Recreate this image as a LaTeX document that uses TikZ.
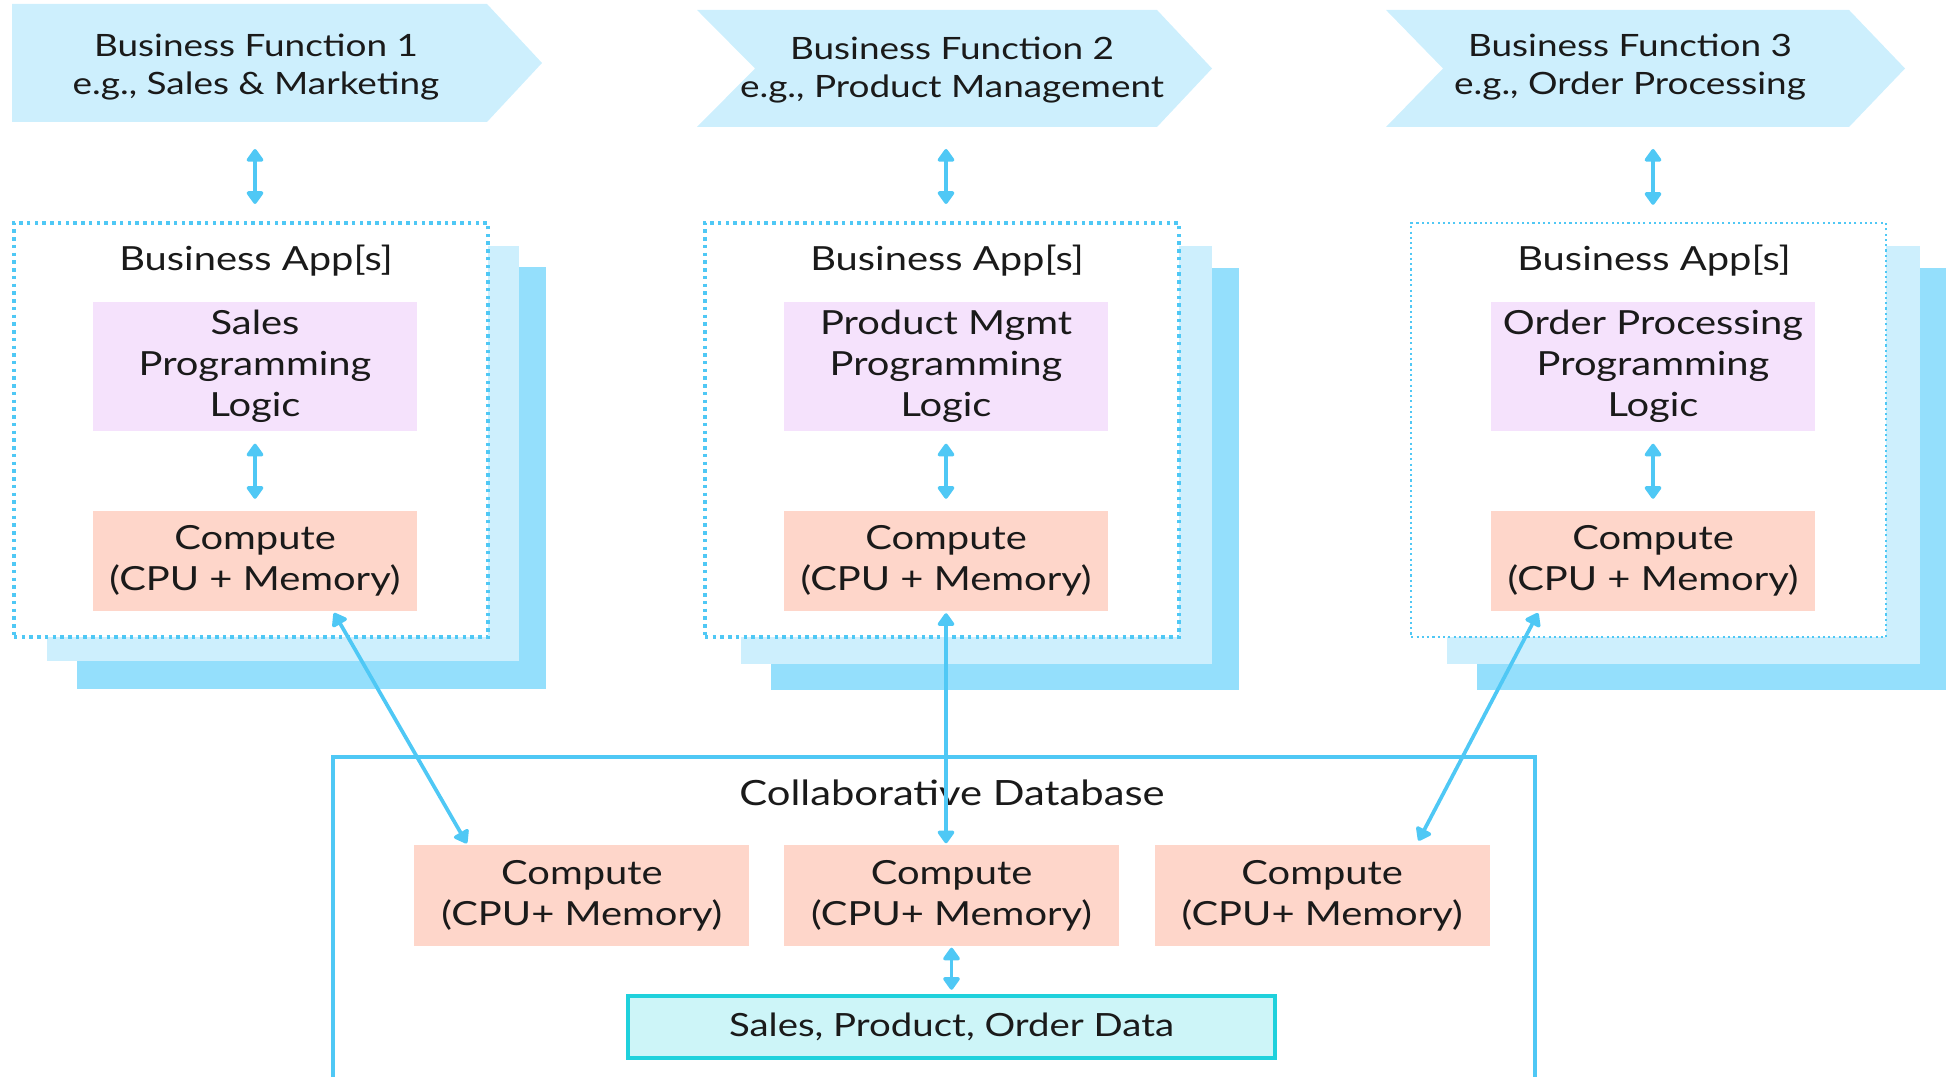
\documentclass[tikz,border=0pt]{standalone}
\usepackage{fontspec}
\setmainfont{Lato}[FakeStretch=1.2]
\usetikzlibrary{positioning,arrows.meta}

\definecolor{fnblue}{HTML}{CDEFFD}
\definecolor{linkblue}{HTML}{4FC8F5}
\definecolor{shadowdark}{HTML}{94DFFC}
\definecolor{logicpurple}{HTML}{F5E2FC}
\definecolor{cpusalmon}{HTML}{FED6CA}
\definecolor{datafill}{HTML}{CDF5F8}
\definecolor{databorder}{HTML}{1FD1DC}
\definecolor{ink}{HTML}{1A1A1A}

\tikzset{
  every node/.style={font=\fontsize{9.45pt}{11.7pt}\selectfont, text=ink},
  link/.style={draw=linkblue, line width=1.05pt, {Triangle[width=5.4pt,length=4pt,round]}-{Triangle[width=5.4pt,length=4pt,round]}},
  fnlabel/.style={align=center, inner sep=0pt, font=\fontsize{8.75pt}{11pt}\selectfont},
  appbox/.style={draw=linkblue, line width=1.1pt, dash pattern=on 1pt off 1.2pt, fill=white, minimum width=4.74cm, minimum height=4.14cm, inner sep=0pt},
  logicbox/.style={fill=logicpurple, minimum width=3.24cm, minimum height=1.29cm, align=center, inner sep=0pt},
  cpubox/.style={fill=cpusalmon, minimum width=3.24cm, minimum height=0.99cm, align=center, inner sep=0pt},
  dbcpu/.style={cpubox, minimum width=3.35cm, minimum height=1.01cm},
}

\begin{document}
\begin{tikzpicture}[x=0.01cm,y=-0.01cm]
  \useasboundingbox (0,0) rectangle (1946,1077);

  % Business functions
  \fill[fnblue] (12,4) -- (487,4) -- (542,63) -- (487,122) -- (12,122) -- cycle;
  \fill[fnblue] (697,10) -- (1157,10) -- (1212,68.5) -- (1157,127) -- (697,127) -- (755,68.5) -- cycle;
  \fill[fnblue] (1386,10) -- (1849,10) -- (1905,68.5) -- (1849,127) -- (1386,127) -- (1443,68.5) -- cycle;
  \node[fnlabel] (fn1) at (256,67) {Business Function 1\\e.g., Sales \& Marketing};
  \node[fnlabel] (fn2) at (952,70) {Business Function 2\\e.g., Product Management};
  \node[fnlabel] (fn3) at (1630,67) {Business Function 3\\e.g., Order Processing};
  \coordinate (fn1b) at (256,122);
  \coordinate (fn2b) at (952,127);
  \coordinate (fn3b) at (1630,127);

  % Stacked app layers
  \fill[shadowdark] (77,267) rectangle (546,689);
  \fill[fnblue] (47,246) rectangle (519,661);
  \fill[shadowdark] (771,268) rectangle (1239,690);
  \fill[fnblue] (741,246) rectangle (1212,664);
  \fill[shadowdark] (1477,268) rectangle (1960,690);
  \fill[fnblue] (1447,246) rectangle (1920,664);

  % Business apps
  \node[appbox] (app1) at (251,430) {};
  \node[appbox] (app2) at (942,430) {};
  \node[appbox, line width=0.6pt, dash pattern=on 0.6pt off 0.9pt] (app3) at (1648.5,430) {};
  \node (lbl1) at (256,261) {Business App[s]};
  \node (lbl2) at (947,261) {Business App[s]};
  \node (lbl3) at (1654,261) {Business App[s]};

  \node[logicbox] (logic1) at (255,366.5) {Sales\\Programming\\Logic};
  \node[logicbox] (logic2) at (946,366.5) {Product Mgmt\\Programming\\Logic};
  \node[logicbox] (logic3) at (1653,366.5) {Order Processing\\Programming\\Logic};
  \node[cpubox, below=0.79cm of logic1] (comp1) {Compute\\(CPU + Memory)};
  \node[cpubox, below=0.79cm of logic2] (comp2) {Compute\\(CPU + Memory)};
  \node[cpubox, below=0.79cm of logic3] (comp3) {Compute\\(CPU + Memory)};

  % Collaborative database
  \draw[linkblue, line width=1pt] (333,757) rectangle (1535,1080);
  \node[font=\fontsize{9.9pt}{11.7pt}\selectfont] (dbtitle) at (952,793) {Collaborative Database};
  \node[dbcpu] (dbc2) at (951.5,895.5) {Compute\\(CPU+ Memory)};
  \node[dbcpu, left=0.33cm of dbc2] (dbc1) {Compute\\(CPU+ Memory)};
  \node[dbcpu, right=0.34cm of dbc2] (dbc3) {Compute\\(CPU+ Memory)};
  \node[below=0.47cm of dbc2, fill=datafill, draw=databorder, line width=1.2pt,
        minimum width=6.47cm, minimum height=0.62cm, inner sep=0pt,
        font=\fontsize{9.1pt}{11.7pt}\selectfont] (data) {Sales, Product, Order Data};

  % Arrows
  \draw[link, shorten <=0.27cm, shorten >=0.17cm] (logic1 |- fn1b) -- (logic1 |- app1.north);
  \draw[link, shorten <=0.22cm, shorten >=0.17cm] (logic2 |- fn2b) -- (logic2 |- app2.north);
  \draw[link, shorten <=0.22cm, shorten >=0.17cm] (logic3 |- fn3b) -- (logic3 |- app3.north);
  \draw[link, shorten <=0.12cm, shorten >=0.12cm] (logic1) -- (comp1);
  \draw[link, shorten <=0.12cm, shorten >=0.12cm] (logic2) -- (comp2);
  \draw[link, shorten <=0.12cm, shorten >=0.12cm] (logic3) -- (comp3);
  \draw[link, shorten <=0.02cm, shorten >=0.01cm] ([xshift=0.78cm]comp1.south) -- ([xshift=-1.145cm]dbc1.north);
  \draw[link, shorten <=0.02cm, shorten >=0.01cm] (comp2.south) -- (comp2.south |- dbc2.north);
  \draw[link, shorten <=0.02cm, shorten >=0.04cm] ([xshift=-1.14cm]comp3.south) -- ([xshift=0.945cm]dbc3.north);
  \draw[link, shorten <=0.01cm, shorten >=0.04cm] (dbc2) -- (data);
\end{tikzpicture}
\end{document}
